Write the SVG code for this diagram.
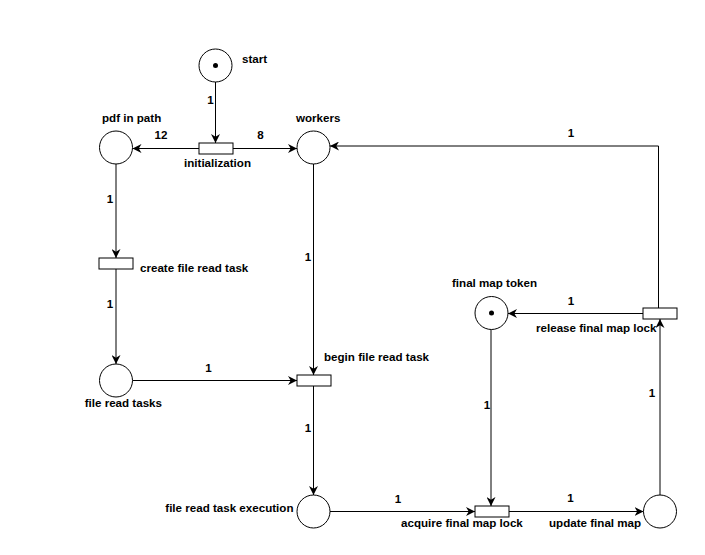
<svg xmlns="http://www.w3.org/2000/svg" width="705" height="555" viewBox="0 0 705 555">
<style>
  .place { fill: #ffffff; stroke: #000000; stroke-width: 1; }
  .trans { fill: #ffffff; stroke: #000000; stroke-width: 1; }
  .tok { fill: #000000; }
  .edge { fill: none; stroke: #000000; stroke-width: 1; marker-end: url(#arr); }
  text { font-family: "Liberation Sans", Arial, sans-serif; font-size: 11.6px; font-weight: bold; fill: #000000; }
  .m { text-anchor: middle; }
  .e { text-anchor: end; }
</style>
<defs>
  <marker id="arr" viewBox="0 0 10 10" markerWidth="9" markerHeight="9" refX="10" refY="5" orient="auto" markerUnits="userSpaceOnUse">
    <path d="M0,0 L10,5 L0,10 L3,5 Z" fill="#000000"/>
  </marker>
</defs>
<rect x="0" y="0" width="705" height="555" fill="#ffffff"/>
<g id="connectors">
  <path class="edge" d="M215.5,82 V143"/>
  <path class="edge" d="M199,148.5 H132.5"/>
  <path class="edge" d="M233,148.5 H297"/>
  <path class="edge" d="M658.5,308 V146 H330"/>
  <path class="edge" d="M116,164 V258"/>
  <path class="edge" d="M116,269 V364"/>
  <path class="edge" d="M132.5,380.5 H297"/>
  <path class="edge" d="M313.5,164 V375"/>
  <path class="edge" d="M313.5,386 V495"/>
  <path class="edge" d="M330,511.5 H475"/>
  <path class="edge" d="M491,329.5 V506"/>
  <path class="edge" d="M509,511.5 H643.5"/>
  <path class="edge" d="M660,495 V319"/>
  <path class="edge" d="M643,313.5 H508"/>
  <text class="m" x="210.5" y="104">1</text>
  <text class="m" x="161" y="139">12</text>
  <text class="m" x="260.5" y="139">8</text>
  <text class="m" x="571" y="137">1</text>
  <text class="m" x="110" y="203">1</text>
  <text class="m" x="110" y="308">1</text>
  <text class="m" x="208.5" y="372">1</text>
  <text class="m" x="308" y="261">1</text>
  <text class="m" x="308" y="432">1</text>
  <text class="m" x="398" y="503">1</text>
  <text class="m" x="487" y="409">1</text>
  <text class="m" x="570.5" y="502">1</text>
  <text class="m" x="652" y="397">1</text>
  <text class="m" x="571" y="305">1</text>
</g>
<g id="start">
  <circle class="place" cx="215.5" cy="65.5" r="16.5"/>
  <circle class="tok" cx="215.5" cy="65.5" r="2.5"/>
  <text x="242" y="63">start</text>
</g>
<g id="pdf-in-path">
  <circle class="place" cx="116" cy="147.5" r="16.5"/>
  <text x="102" y="122">pdf in path</text>
</g>
<g id="workers">
  <circle class="place" cx="313.5" cy="147.5" r="16.5"/>
  <text x="296" y="122">workers</text>
</g>
<g id="initialization">
  <rect class="trans" x="199" y="143" width="34" height="11"/>
  <text class="m" x="217.5" y="167">initialization</text>
</g>
<g id="create-file-read-task">
  <rect class="trans" x="99" y="258" width="34" height="11"/>
  <text x="140" y="272">create file read task</text>
</g>
<g id="file-read-tasks">
  <circle class="place" cx="116" cy="380.5" r="16.5"/>
  <text class="e" x="162" y="407">file read tasks</text>
</g>
<g id="begin-file-read-task">
  <rect class="trans" x="297" y="375" width="34" height="11"/>
  <text x="324" y="361">begin file read task</text>
</g>
<g id="file-read-task-execution">
  <circle class="place" cx="313.5" cy="511.5" r="16.5"/>
  <text class="e" x="293.5" y="512">file read task execution</text>
</g>
<g id="final-map-token">
  <circle class="place" cx="491.5" cy="313" r="16.5"/>
  <circle class="tok" cx="491.5" cy="313" r="2.5"/>
  <text x="452" y="287">final map token</text>
</g>
<g id="release-final-map-lock">
  <rect class="trans" x="643" y="308" width="34" height="11"/>
  <text x="536" y="332">release final map lock</text>
</g>
<g id="acquire-final-map-lock">
  <rect class="trans" x="475" y="506" width="34" height="11"/>
  <text x="401" y="527">acquire final map lock</text>
</g>
<g id="update-final-map">
  <circle class="place" cx="660" cy="511.5" r="16.5"/>
  <text x="549" y="527">update final map</text>
</g>
</svg>
